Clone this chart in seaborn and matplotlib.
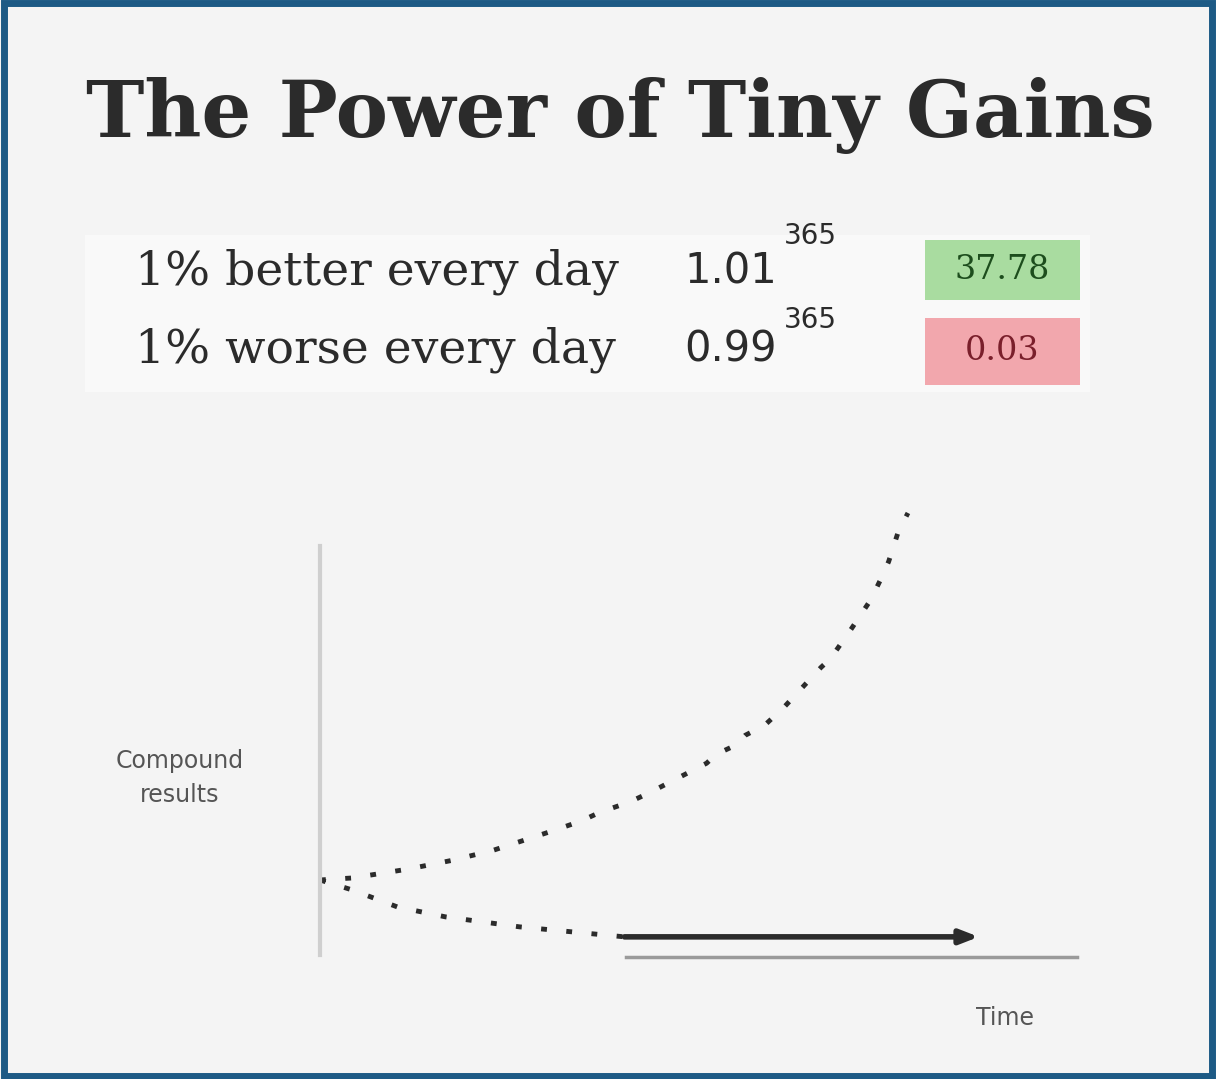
import matplotlib
matplotlib.use("Agg")
import matplotlib.pyplot as plt
import seaborn as sns
import pandas as pd
from matplotlib.patches import Rectangle

# ---------------- data ----------------
title = "The Power of Tiny Gains"
row_labels = ["1% better every day", "1% worse every day"]
row_bases = ["1.01", "0.99"]
row_exponent = "365"
row_results = ["37.78", "0.03"]
y_label = "Compound\nresults"
x_label = "Time"

days_up = [0, 20, 55, 83, 108, 127, 144, 162, 174, 192, 204, 216, 228, 240,
           246, 258, 264, 276, 282, 288, 311, 317, 330, 342, 348, 353, 359, 365]
vals_up = [1.0, 1.2, 2.1, 3.0, 4.0, 5.0, 5.9, 6.9, 7.8, 8.8, 9.7, 10.7, 11.7,
           12.7, 13.6, 14.5, 15.5, 16.5, 17.4, 18.3, 22.3, 23.2, 26.2, 29.1,
           31.1, 32.9, 35.9, 37.78]
days_down = [0, 20, 48, 78, 124, 189]
vals_down = [1.0, 0.0, -1.7, -2.7, -3.7, -4.7]
arrow_days = [189, 409]
arrow_vals = [-4.7, -4.7]

# ---------------- styling ----------------
W, H = 1216, 1079
BG = "#f4f4f4"
FRAME = "#1d5a85"
INK = "#2b2b2b"

sns.set_theme(style="white")
plt.rcParams["font.family"] = ["DejaVu Sans"]

fig = plt.figure(figsize=(W / 100, H / 100), dpi=100)
fig.patch.set_facecolor(BG)

def fx(px):
    return px / W

def fy(py):
    return 1 - py / H

# frame
fig.patches.append(Rectangle((0.003, 0.003), 0.994, 0.994, transform=fig.transFigure,
                             fill=False, edgecolor=FRAME, linewidth=5, zorder=10))

# title
fig.text(fx(86), fy(116), title, family="DejaVu Serif", fontweight="bold",
         fontsize=56.5, color=INK, ha="left", va="center")

# legend panel
fig.patches.append(Rectangle((fx(85), fy(392)), fx(1090) - fx(85), fy(235) - fy(392),
                             transform=fig.transFigure, facecolor="#f9f9f9",
                             edgecolor="none", zorder=0))

row_y = [272, 350]
exp_y = [236, 320]
box_top = [240, 318]
box_bot = [300, 385]
box_fc = ["#a9dca0", "#f2a7ad"]
box_tc = ["#1d4d1d", "#7a1f2b"]
for i in range(2):
    fig.text(fx(135), fy(row_y[i]), row_labels[i], family="DejaVu Serif",
             fontsize=34, color=INK, ha="left", va="center")
    fig.text(fx(684), fy(row_y[i]), row_bases[i], family="DejaVu Sans",
             fontsize=30, color=INK, ha="left", va="center")
    fig.text(fx(784), fy(exp_y[i]), row_exponent, family="DejaVu Sans",
             fontsize=20, color=INK, ha="left", va="center")
    fig.patches.append(Rectangle((fx(925), fy(box_bot[i])), fx(1080) - fx(925),
                                 fy(box_top[i]) - fy(box_bot[i]),
                                 transform=fig.transFigure, facecolor=box_fc[i],
                                 edgecolor="none", zorder=1))
    fig.text(fx(1002), fy((box_top[i] + box_bot[i]) / 2), row_results[i],
             family="DejaVu Serif", fontsize=24, color=box_tc[i],
             ha="center", va="center", zorder=2)

# ---------------- chart axes ----------------
ax_l, ax_r, ax_t, ax_b = 320, 1060, 500, 960
ax = fig.add_axes([fx(ax_l), fy(ax_b), fx(ax_r) - fx(ax_l), fy(ax_t) - fy(ax_b)])
ax.set_facecolor("none")

df_up = pd.DataFrame({"day": days_up, "value": vals_up})
df_down = pd.DataFrame({"day": days_down, "value": vals_down})

sns.lineplot(data=df_up, x="day", y="value", ax=ax, color=INK, linewidth=3.5,
             linestyle=(0, (1.2, 4.0)), sort=False)
sns.lineplot(data=df_down, x="day", y="value", ax=ax, color=INK, linewidth=3.5,
             linestyle=(0, (1.2, 4.0)), sort=False)
ax.annotate("", xy=(arrow_days[1], arrow_vals[1]), xytext=(arrow_days[0], arrow_vals[0]),
            arrowprops=dict(arrowstyle="-|>,head_length=0.9,head_width=0.35",
                            color=INK, linewidth=4, shrinkA=0, shrinkB=0))

ax.set_xlim(0, 459.4)
ax.set_ylim(-7.02, 39.08)
ax.set_xticks([])
ax.set_yticks([])
ax.set_xlabel("")
ax.set_ylabel("")
for s in ["top", "right"]:
    ax.spines[s].set_visible(False)
ax.spines["left"].set_bounds(-6.5, 34.5)
ax.spines["left"].set_color("#cfcfcf")
ax.spines["left"].set_linewidth(3)
ax.spines["bottom"].set_position(("data", -6.7))
ax.spines["bottom"].set_bounds(190, 470)
ax.spines["bottom"].set_color("#9a9a9a")
ax.spines["bottom"].set_linewidth(2.5)

fig.text(fx(180), fy(778), y_label, family="DejaVu Sans", fontsize=17,
         color="#555555", ha="center", va="center", linespacing=1.5)
fig.text(fx(1005), fy(1018), x_label, family="DejaVu Sans", fontsize=17,
         color="#555555", ha="center", va="center")

fig.savefig("out.png", dpi=100, facecolor=BG)
